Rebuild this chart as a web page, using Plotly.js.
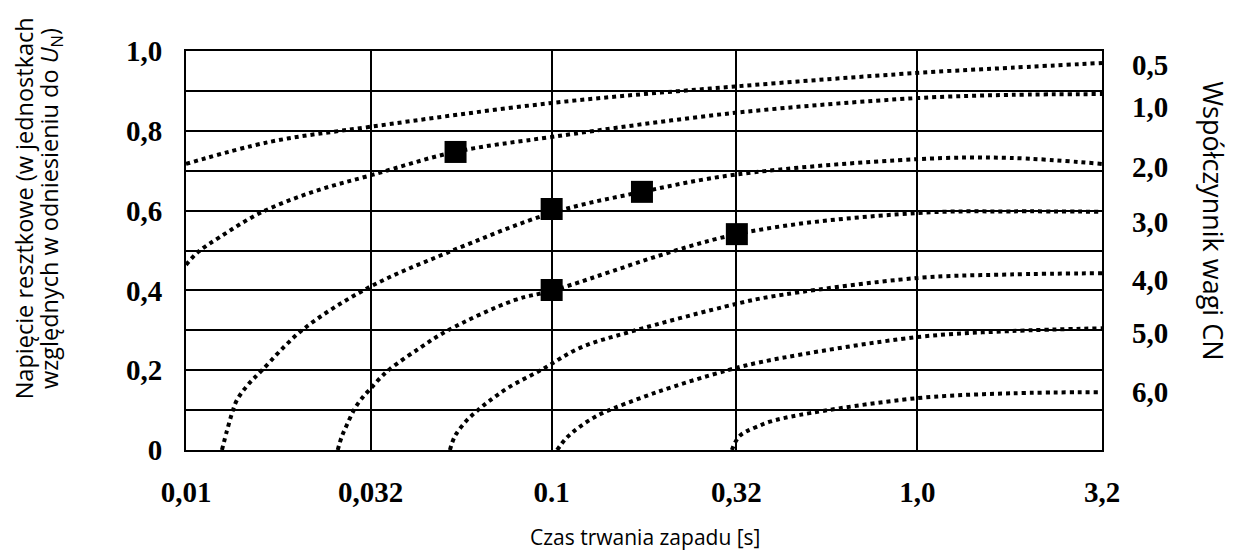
<!DOCTYPE html>
<html>
<head>
<meta charset="utf-8">
<script src="https://cdn.plot.ly/plotly-3.0.1.min.js"></script>
<style>html,body{margin:0;padding:0;background:#fff;}#chart{width:1233px;height:552px;}</style>
</head>
<body>
<div id="chart"></div>
<script>
// ---- data ----
const xTickVals = [0.01, 0.032, 0.1, 0.32, 1.0, 3.2];
const xTickText = ['0,01', '0,032', '0.1', '0,32', '1,0', '3,2'];
const yTickVals = [0, 0.2, 0.4, 0.6, 0.8, 1.0];
const yTickText = ['0', '0,2', '0,4', '0,6', '0,8', '1,0'];

const cnLabels = ['0,5', '1,0', '2,0', '3,0', '4,0', '5,0', '6,0'];
const cnLabelY = [0.965, 0.86, 0.709, 0.571, 0.426, 0.293, 0.145];

// curves: duration [s] vs residual voltage [p.u.]
const cn05X = [0.01, 0.0169, 0.0319, 0.1008, 0.3171, 0.998, 1.8, 3.2];
const cn05Y = [0.717, 0.772, 0.81, 0.87, 0.911, 0.945, 0.958, 0.97];

const cn10X = [0.01, 0.01078, 0.01239, 0.01594, 0.02225, 0.03246, 0.0544, 0.1008, 0.3171, 1.0, 1.8, 3.2];
const cn10Y = [0.464, 0.496, 0.534, 0.594, 0.647, 0.69, 0.747, 0.785, 0.845, 0.882, 0.89, 0.892];

const cn20X = [0.01254, 0.01294, 0.01336, 0.01376, 0.01466, 0.01614, 0.02076, 0.03126, 0.0517, 0.1008, 0.1766, 0.3171, 1.0, 1.8, 3.2];
const cn20Y = [0.0, 0.048, 0.092, 0.124, 0.16, 0.2, 0.3, 0.405, 0.494, 0.595, 0.647, 0.69, 0.729, 0.732, 0.717];

const cn30X = [0.0260, 0.02666, 0.02751, 0.02899, 0.03055, 0.03185, 0.03393, 0.03613, 0.04364, 0.05205, 0.07937, 0.1008, 0.3211, 1.0, 1.8, 3.2];
const cn30Y = [0.0, 0.033, 0.062, 0.105, 0.134, 0.152, 0.18, 0.203, 0.256, 0.3, 0.376, 0.40, 0.541, 0.594, 0.598, 0.597];

const cn40X = [0.0527, 0.0544, 0.05856, 0.0625, 0.0671, 0.076, 0.0946, 0.1195, 0.1637, 0.319, 0.3954, 1.0, 1.8, 3.2];
const cn40Y = [0.0, 0.035, 0.074, 0.098, 0.121, 0.156, 0.203, 0.256, 0.296, 0.366, 0.384, 0.431, 0.44, 0.443];

const cn50X = [0.1035, 0.1087, 0.1143, 0.1218, 0.1297, 0.1381, 0.194, 0.3034, 0.3954, 1.0, 1.8, 3.2];
const cn50Y = [0.0, 0.026, 0.045, 0.064, 0.08, 0.093, 0.145, 0.2, 0.225, 0.283, 0.298, 0.305];

const cn60X = [0.3112, 0.3171, 0.3273, 0.3414, 0.3636, 0.3954, 0.4775, 1.0, 1.8, 3.2];
const cn60Y = [0.0, 0.018, 0.036, 0.047, 0.058, 0.071, 0.088, 0.13, 0.142, 0.145];

// measured points (black squares)
const pointX = [0.0546, 0.1, 0.1, 0.1766, 0.321];
const pointY = [0.747, 0.604, 0.401, 0.647, 0.541];

// ---- build chart ----
const curves = [[cn05X, cn05Y], [cn10X, cn10Y], [cn20X, cn20Y], [cn30X, cn30Y], [cn40X, cn40Y], [cn50X, cn50Y], [cn60X, cn60Y]];
const traces = curves.map(c => ({
  x: c[0], y: c[1], type: 'scatter', mode: 'lines',
  line: {color: '#000', width: 4, dash: 'dot', shape: 'spline', smoothing: 1},
  hoverinfo: 'skip', cliponaxis: true
}));
traces.push({
  x: pointX, y: pointY, type: 'scatter', mode: 'markers',
  marker: {symbol: 'square', size: 22, color: '#000'}
});

const serif = {family: 'Liberation Serif, Times New Roman, serif', size: 29, color: '#000', weight: 'bold'};
const sansX = {family: 'Open Sans, Noto Sans, sans-serif', size: 21, color: '#000'};
const sansL = {family: 'Open Sans, Noto Sans, sans-serif', size: 23.5, color: '#000'};
const sansR = {family: 'Open Sans, Noto Sans, sans-serif', size: 27, color: '#000'};

const annotations = [];
cnLabels.forEach((t, i) => annotations.push({
  text: t, xref: 'paper', yref: 'y', x: 1.0524, y: cnLabelY[i],
  xanchor: 'center', yanchor: 'middle', showarrow: false, font: serif
}));
annotations.push({text: 'Czas trwania zapadu [s]', xref: 'paper', yref: 'paper', x: 0.501, y: -0.218,
  xanchor: 'center', yanchor: 'middle', showarrow: false, font: sansX});
annotations.push({text: 'Napięcie resztkowe (w jednostkach', xref: 'paper', yref: 'paper', x: -0.1765, y: 0.6065,
  xanchor: 'center', yanchor: 'middle', showarrow: false, textangle: -90, font: sansL});
annotations.push({text: 'względnych w odniesieniu do <i>U</i><sub>N</sub>)', xref: 'paper', yref: 'paper', x: -0.1485, y: 0.6065,
  xanchor: 'center', yanchor: 'middle', showarrow: false, textangle: -90, font: sansL});
annotations.push({text: 'Współczynnik wagi CN', xref: 'paper', yref: 'paper', x: 1.121, y: 0.574,
  xanchor: 'center', yanchor: 'middle', showarrow: false, textangle: 90, font: sansR});

const layout = {
  width: 1233, height: 552,
  margin: {l: 186, r: 131, t: 51, b: 102, pad: 0},
  paper_bgcolor: '#fff', plot_bgcolor: '#fff',
  showlegend: false,
  xaxis: {
    type: 'log', range: [-2, Math.log10(3.2)],
    tickvals: xTickVals, ticktext: xTickText, tickfont: serif,
    ticks: '', ticklabelstandoff: 15,
    showgrid: true, gridcolor: '#000', gridwidth: 2,
    showline: true, mirror: true, linecolor: '#000', linewidth: 2,
    zeroline: false, fixedrange: true
  },
  yaxis: {
    range: [0, 1],
    tickvals: yTickVals, ticktext: yTickText, tickfont: serif,
    ticks: '', ticklabelstandoff: 16,
    showgrid: true, gridcolor: '#000', gridwidth: 2,
    minor: {dtick: 0.1, showgrid: true, gridcolor: '#000', gridwidth: 2, ticks: ''},
    showline: true, mirror: true, linecolor: '#000', linewidth: 2,
    zeroline: false, fixedrange: true
  },
  annotations: annotations
};

Plotly.newPlot('chart', traces, layout, {staticPlot: true, displayModeBar: false});
</script>
</body>
</html>
